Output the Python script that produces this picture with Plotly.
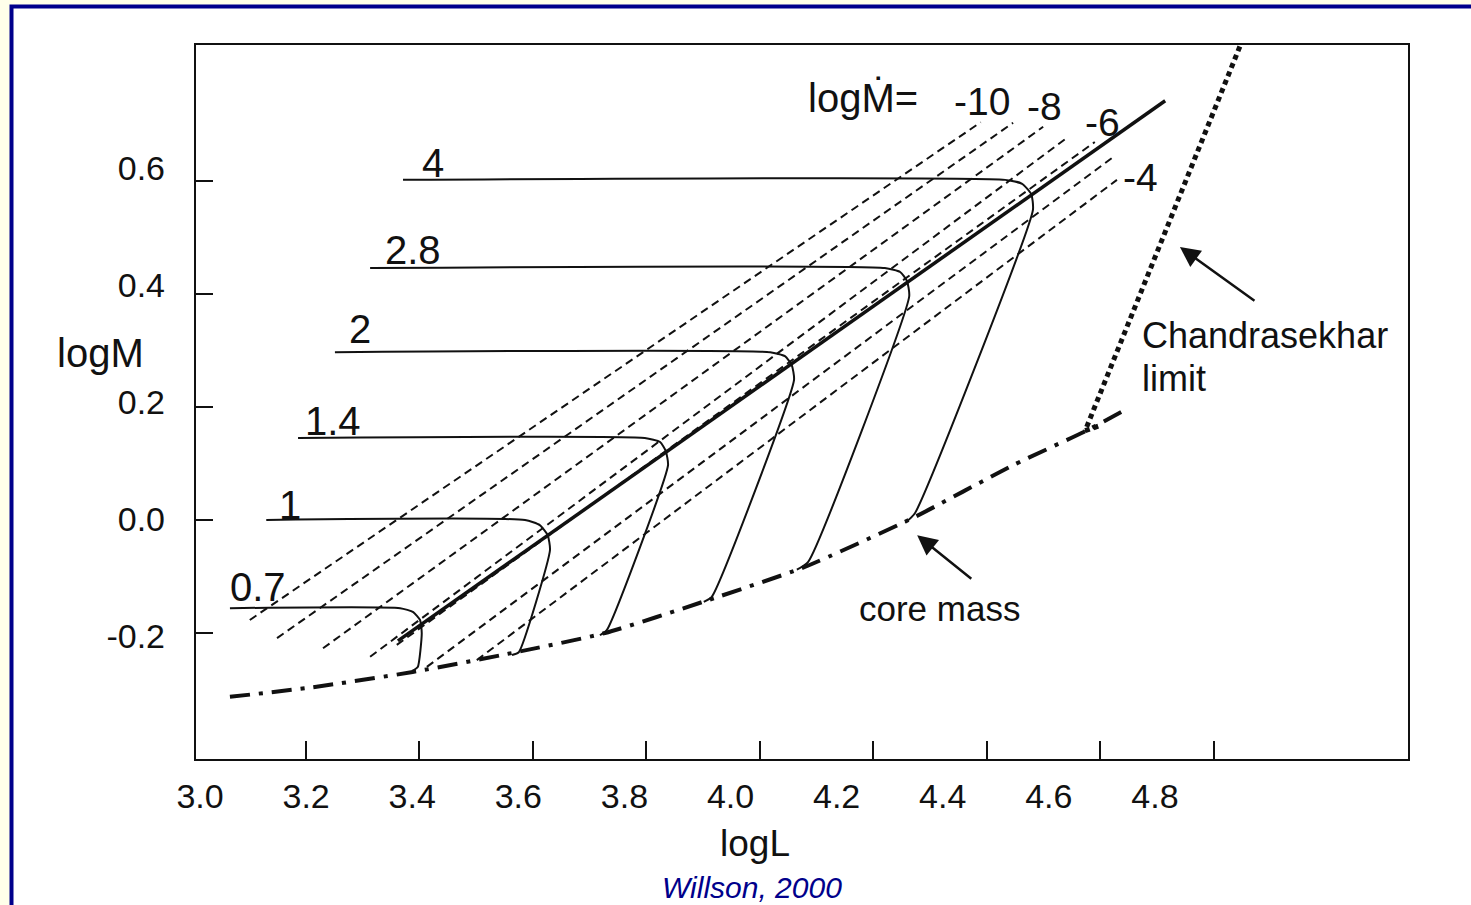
import plotly.graph_objects as go

# ---------------------------------------------------------------------------
# Data: AGB tracks in the logL - logM plane (Willson 2000)
# ---------------------------------------------------------------------------

# Mass-loss-rate lines, log Mdot = -10 ... -4 (two points each: logL, logM)
mdot_values = [-10, -9, -8, -7, -6, -5, -4]
mdot_logL = [
    [3.101, 4.389],
    [3.149, 4.446],
    [3.230, 4.499],
    [3.313, 4.543],
    [3.360, 4.590],
    [3.413, 4.622],
    [3.501, 4.629],
]
mdot_logM = [
    [-0.177, 0.704],
    [-0.209, 0.703],
    [-0.227, 0.696],
    [-0.242, 0.678],
    [-0.221, 0.669],
    [-0.260, 0.642],
    [-0.248, 0.602],
]

# Critical line where the envelope is removed (solid, heavy)
crit_logL = [3.362, 4.714]
crit_logM = [-0.214, 0.742]

# Evolutionary tracks labelled by initial mass
track_names = ["4", "2.8", "2", "1.4", "1", "0.7"]
track_logL = [
    [3.371, 4.432, 4.462, 4.478, 4.481, 4.273, 4.256],
    [3.313, 4.220, 4.247, 4.259, 4.263, 4.085, 4.065],
    [3.251, 4.018, 4.044, 4.056, 4.060, 3.915, 3.901],
    [3.186, 3.797, 3.824, 3.834, 3.838, 3.730, 3.718],
    [3.130, 3.586, 3.612, 3.626, 3.630, 3.575, 3.563],
    [3.066, 3.366, 3.389, 3.401, 3.404, 3.397, 3.387],
]
track_logM = [
    [0.602, 0.602, 0.595, 0.577, 0.549, 0.012, -0.005],
    [0.446, 0.446, 0.439, 0.423, 0.396, -0.074, -0.088],
    [0.297, 0.297, 0.290, 0.274, 0.248, -0.136, -0.145],
    [0.145, 0.145, 0.138, 0.122, 0.097, -0.195, -0.204],
    [0.000, 0.000, -0.009, -0.027, -0.053, -0.234, -0.239],
    [-0.156, -0.156, -0.163, -0.177, -0.200, -0.260, -0.267],
]

# Core mass - luminosity relation
core_logL = [3.066, 3.212, 3.388, 3.565, 3.727, 3.908, 4.079, 4.270, 4.446, 4.577, 4.649]
core_logM = [-0.313, -0.296, -0.269, -0.235, -0.200, -0.142, -0.083, 0.004, 0.097, 0.159, 0.198]

# Chandrasekhar limit
chandra_logL = [4.596, 4.573, 4.846]
chandra_logM = [0.166, 0.158, 0.839]

# Axis ticks and labels
x_ticks = [3.2, 3.4, 3.6, 3.8, 4.0, 4.2, 4.4, 4.6, 4.8]
x_label_vals = [3.0, 3.2, 3.4, 3.6, 3.8, 4.0, 4.2, 4.4, 4.6, 4.8]
x_labels = ["3.0", "3.2", "3.4", "3.6", "3.8", "4.0", "4.2", "4.4", "4.6", "4.8"]
y_ticks = [-0.2, 0.0, 0.2, 0.4, 0.6]
y_labels = ["-0.2", "0.0", "0.2", "0.4", "0.6"]

# ---------------------------------------------------------------------------
# Layout geometry
# ---------------------------------------------------------------------------
W, H = 1471, 905
FONT = "Liberation Sans, Arial, Helvetica, sans-serif"
INK = "#111111"
NAVY = "#00008B"

x_dom = [196 / W, 1408 / W]
y_dom = [1 - 759 / H, 1 - 45 / H]
x_range = [3.0062, 5.1419]
y_range = [-0.4230, 0.8407]
# printed tick labels run on a slightly different spacing than the tick marks
x_lab_range = [2.99246, 5.27710]
y_lab_range = [-0.41026, 0.81026]

fig = go.Figure()

for lx, ly in zip(mdot_logL, mdot_logM):
    fig.add_trace(go.Scatter(x=lx, y=ly, mode="lines",
                             line=dict(color=INK, width=2, dash="8px,5px"),
                             hoverinfo="skip"))

fig.add_trace(go.Scatter(x=crit_logL, y=crit_logM, mode="lines",
                         line=dict(color=INK, width=3.5), hoverinfo="skip"))

for lx, ly in zip(track_logL, track_logM):
    fig.add_trace(go.Scatter(x=lx, y=ly, mode="lines",
                             line=dict(color=INK, width=2, shape="spline", smoothing=0.5),
                             hoverinfo="skip"))

fig.add_trace(go.Scatter(x=core_logL, y=core_logM, mode="lines",
                         line=dict(color=INK, width=4, dash="20px,9px,4px,9px",
                                   shape="spline", smoothing=0.6),
                         hoverinfo="skip"))

fig.add_trace(go.Scatter(x=chandra_logL, y=chandra_logM, mode="lines",
                         line=dict(color=INK, width=5, dash="5px,4px"),
                         hoverinfo="skip"))

# carrier for the label axes
fig.add_trace(go.Scatter(x=[3.0], y=[0.0], xaxis="x2", yaxis="y2", mode="markers",
                         marker=dict(opacity=0), hoverinfo="skip"))

ann = []


def text(x, y, s, size=34, xanchor="center", xref="x", yref="y", **kw):
    ann.append(dict(x=x, y=y, xref=xref, yref=yref, text=s, showarrow=False,
                    xanchor=xanchor, yanchor="middle",
                    font=dict(family=FONT, size=size, color=INK), **kw))


# track labels
track_label_x = [3.424, 3.389, 3.295, 3.248, 3.172, 3.115]
track_label_y = [0.632, 0.478, 0.338, 0.175, 0.027, -0.119]
for name, lx, ly in zip(track_names, track_label_x, track_label_y):
    text(lx, ly, name, size=40)

# mass-loss-rate labels
text(4.181, 0.747, "logṀ=", size=40)
text(4.391, 0.740, "-10", size=39)
text(4.502, 0.731, "-8", size=39)
text(4.604, 0.703, "-6", size=39)
text(4.670, 0.607, "-4", size=39)

text(4.670, 0.327, "Chandrasekhar", size=36, xanchor="left")
text(4.670, 0.251, "limit", size=36, xanchor="left")
text(4.317, -0.156, "core mass", size=35)

# arrows
for hx, hy, tx, ty in [(4.740, 0.483, 4.874, 0.386), (4.277, -0.027, 4.375, -0.106)]:
    ann.append(dict(x=hx, y=hy, ax=tx, ay=ty, xref="x", yref="y", axref="x", ayref="y",
                    text="", showarrow=True, arrowhead=2, arrowsize=1.6,
                    arrowwidth=2.5, arrowcolor=INK, standoff=0))

# axis titles and credit
text(100 / W, 1 - 353 / H, "logM", size=40, xref="paper", yref="paper")
text(755 / W, 1 - 843 / H, "logL", size=37, xref="paper", yref="paper")
ann.append(dict(x=752 / W, y=1 - 869 / H, xref="paper", yref="paper",
                xanchor="center", yanchor="top",
                text="<i>Willson, 2000</i>", showarrow=False,
                font=dict(family=FONT, size=30, color=NAVY)))

frame = dict(showline=True, linecolor=INK, linewidth=2, mirror=True,
             showgrid=False, zeroline=False, ticks="inside", tickwidth=2,
             tickcolor=INK, showticklabels=False, automargin=False)

fig.update_layout(
    template="none",
    width=W, height=H,
    margin=dict(l=0, r=0, t=0, b=0, pad=0, autoexpand=False),
    paper_bgcolor="#FFFFEA",
    plot_bgcolor="white",
    showlegend=False,
    xaxis=dict(domain=x_dom, range=x_range, tickvals=x_ticks, ticklen=18, **frame),
    yaxis=dict(domain=y_dom, range=y_range, tickvals=y_ticks, ticklen=17, **frame),
    xaxis2=dict(domain=x_dom, range=x_lab_range, overlaying="x", anchor="y2",
                side="bottom", showline=False, showgrid=False, zeroline=False,
                ticks="", tickvals=x_label_vals, ticktext=x_labels,
                ticklabelstandoff=14, automargin=False,
                tickfont=dict(family=FONT, size=34, color=INK)),
    yaxis2=dict(domain=y_dom, range=y_lab_range, overlaying="y", anchor="x2",
                side="left", showline=False, showgrid=False, zeroline=False,
                ticks="", tickvals=y_ticks, ticktext=y_labels,
                ticklabelstandoff=30, automargin=False,
                tickfont=dict(family=FONT, size=34, color=INK)),
    shapes=[dict(type="rect", xref="paper", yref="paper",
                 x0=11.5 / W, x1=1.2, y0=-0.2, y1=1 - 6.5 / H,
                 line=dict(color=NAVY, width=4), fillcolor="white", layer="below")],
    annotations=ann,
)

fig.write_html("out.html")
